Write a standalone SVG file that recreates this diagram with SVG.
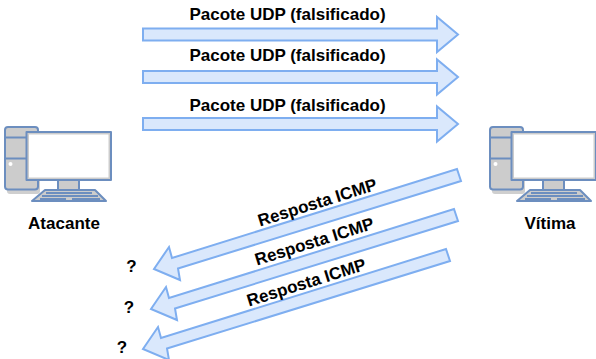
<svg xmlns="http://www.w3.org/2000/svg" width="596" height="359" viewBox="0 0 596 359">
<style>
text{font-family:"Liberation Sans",Arial,sans-serif;font-weight:bold;font-size:17px;fill:#000;text-anchor:middle}
.arrow{fill:#dae8fc;stroke:#7eaef0;stroke-width:2;stroke-linejoin:miter}
.pc{stroke:#6c8ebf;stroke-width:2;stroke-linejoin:round}
.g{fill:#cccccc}
.w{fill:#ffffff}
.sh{fill:#cfcfcf;stroke:none}
.l{fill:none}
</style>
<defs>
<g id="pc">
<rect class="sh" x="7" y="131" width="33" height="63" rx="3"/>
<rect class="pc g" x="5" y="127" width="33" height="62.500" rx="3"/>
<path class="pc l" d="M5 137.500H38M5 158.500H38"/>
<circle cx="10.500" cy="164" r="2" fill="#fff"/>
<rect class="pc g" x="58" y="180" width="21" height="10"/>
<path class="pc g" d="M45 190H95L106 201H32Z"/>
<path class="pc l" stroke-width="1.500" d="M46 193H92M42 196H98M40 199H66M72 199H100"/>
<rect class="pc g" x="26.500" y="132" width="84.500" height="48"/>
<rect class="w" x="29" y="134.500" width="79.500" height="43"/>
</g>
<path id="ha" class="arrow" d="M143 28.500H437V17L458 34.500L437 52V40.500H143Z"/>
<path id="da" class="arrow" d="M457 169L461 181L178 268.500L180 280L154 269L169 247L172 258Z"/>
</defs>
<g id="attacker">
<use href="#pc"/>
<text x="64" y="229">Atacante</text>
</g>
<g id="victim">
<use href="#pc" x="485"/>
<text x="550" y="229">Vítima</text>
</g>
<g id="connectors">
<use href="#ha"/>
<use href="#ha" y="42.500"/>
<use href="#ha" y="89.500"/>
<use href="#da"/>
<use href="#da" x="-3" y="40"/>
<use href="#da" x="-11" y="80"/>
</g>
<g id="labels">
<text x="287.500" y="20">Pacote UDP (falsificado)</text>
<text x="287.500" y="61">Pacote UDP (falsificado)</text>
<text x="287.500" y="110.500">Pacote UDP (falsificado)</text>
<text transform="translate(319 208) rotate(-17.500)">Resposta ICMP</text>
<text transform="translate(316 247) rotate(-17.500)">Resposta ICMP</text>
<text transform="translate(308 288) rotate(-17.500)">Resposta ICMP</text>
<text x="131.500" y="272">?</text>
<text x="129" y="313">?</text>
<text x="122" y="353">?</text>
</g>
</svg>
